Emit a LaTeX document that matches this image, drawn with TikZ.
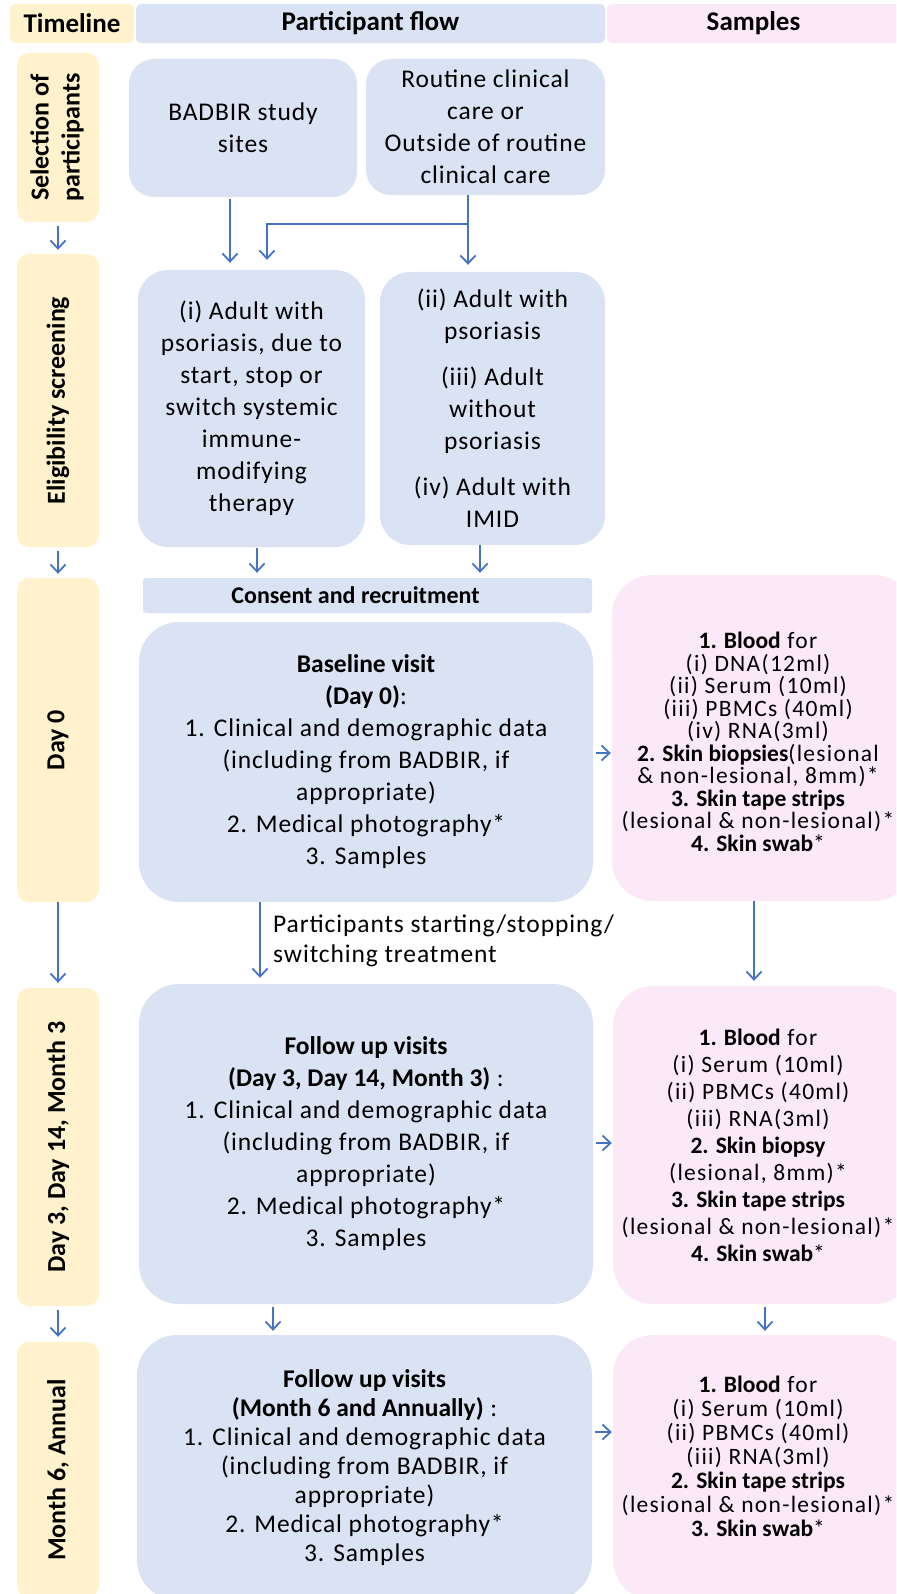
\documentclass[tikz,border=0pt]{standalone}
\usepackage{fontspec}
\setmainfont{Carlito}[UprightFeatures={LetterSpace=3.5}]
\newfontfamily\sampfont{Carlito}[UprightFeatures={LetterSpace=5.5}]
\usetikzlibrary{arrows.meta}
\definecolor{flowblue}{HTML}{DAE3F3}
\definecolor{tlyellow}{HTML}{FFF2CC}
\definecolor{spink}{HTML}{FCE9F8}
\definecolor{arrblue}{HTML}{4472C4}
\begin{document}
\begin{tikzpicture}[x=1pt,y=-1pt,
 box/.style={inner sep=0pt, align=center, text=black},
 hdr/.style={box, rounded corners=5pt, minimum height=39pt, font=\fontsize{27}{30}\selectfont\bfseries},
 tlbox/.style={box, fill=tlyellow, rounded corners=12pt, minimum width=82pt, font=\fontsize{26}{31}\selectfont\bfseries},
 flowbox/.style={box, fill=flowblue, font=\fontsize{25.5}{32}\selectfont},
 sbox/.style={box, fill=spink, rounded corners=40pt},
 stext/.style={box, font=\sampfont\fontsize{23.5}{#1}\selectfont},
 arr/.style={draw=arrblue, line width=1.8pt, -{Straight Barb[length=8pt,width=15pt]}},
 lbl/.style={inner sep=0pt, align=left, font=\fontsize{25.5}{30}\selectfont},
]
\useasboundingbox (0,0) rectangle (896,1594);
\clip (0,0) rectangle (896,1594);

% headers
\node[hdr, fill=tlyellow, minimum width=124pt] (hTL) at (72,23.5) {Timeline};
\node[hdr, fill=flowblue, minimum width=469pt] (hPF) at (370.5,23.5) {Participant flow};
\node[hdr, fill=spink, minimum width=293pt] (hS) at (753.5,23.5) {Samples};

% timeline
\node[tlbox, minimum height=169pt] (tSel) at (58,137.5) {\rotatebox{90}{\begin{tabular}{@{}c@{}}Selection of\\participants\end{tabular}}};
\node[tlbox, minimum height=293pt] (tElig) at (58,400.5) {\rotatebox{90}{Eligibility screening}};
\node[tlbox, minimum height=324pt] (tD0) at (58,740) {\rotatebox{90}{Day 0}};
\node[tlbox, minimum height=318pt] (tD3) at (58,1147) {\rotatebox{90}{Day 3, Day 14, Month 3}};
\node[tlbox, minimum height=256pt] (tM6) at (58,1470) {\rotatebox{90}{Month 6, Annual}};

% participant flow
\node[flowbox, rounded corners=25pt, minimum width=228pt, minimum height=138pt] (badbir) at (243,128) {BADBIR study\\sites};
\node[flowbox, rounded corners=25pt, minimum width=239pt, minimum height=136pt] (routine) at (485.5,127) {Routine clinical\\care or\\Outside of routine\\clinical care};
\node[flowbox, rounded corners=30pt, minimum width=227pt, minimum height=277pt] (boxi) at (251.5,408.5) {(i) Adult with\\psoriasis, due to\\start, stop or\\switch systemic\\immune-\\modifying\\therapy};
\node[flowbox, rounded corners=30pt, minimum width=225pt, minimum height=273pt] (boxii) at (492.5,408.5) {(ii) Adult with\\psoriasis\\[14pt](iii) Adult\\without\\psoriasis\\[14pt](iv) Adult with\\IMID};
\node[flowbox, rounded corners=3pt, minimum width=449pt, minimum height=35pt, font=\fontsize{24}{28}\selectfont\bfseries] (consent) at (367.5,595.5) {\hspace*{-24pt}Consent and recruitment};
\node[flowbox, rounded corners=40pt, minimum width=454pt, minimum height=280pt] (base) at (366,762) {\textbf{Baseline visit}\\\textbf{(Day 0)}:\\1. Clinical and demographic data\\(including from BADBIR, if\\appropriate)\\2. Medical photography*\\3. Samples};
\node[flowbox, rounded corners=40pt, minimum width=454pt, minimum height=320pt] (fu1) at (366,1144) {\textbf{Follow up visits}\\\textbf{(Day 3, Day 14, Month 3)} :\\1. Clinical and demographic data\\(including from BADBIR, if\\appropriate)\\2. Medical photography*\\3. Samples};
\node[flowbox, rounded corners=40pt, minimum width=455pt, minimum height=265pt, font=\fontsize{25.5}{29}\selectfont] (fu2) at (364.5,1467.5) {\textbf{Follow up visits}\\\textbf{(Month 6 and Annually)} :\\1. Clinical and demographic data\\(including from BADBIR, if\\appropriate)\\2. Medical photography*\\3. Samples};

% samples
\node[sbox, minimum width=302pt, minimum height=326pt] (s1) at (763,738) {};
\node[stext=22.5pt] (s1t) at (758,742) {\textbf{1. Blood} for\\(i) DNA(12ml)\\(ii) Serum (10ml)\\(iii) PBMCs (40ml)\\(iv) RNA(3ml)\\\textbf{2. Skin biopsies}(lesional\\\& non-lesional, 8mm)*\\\textbf{3. Skin tape strips}\\(lesional \& non-lesional)*\\\textbf{4. Skin swab}*};
\node[sbox, minimum width=301pt, minimum height=318pt] (s2) at (763.5,1145) {};
\node[stext=27pt] (s2t) at (758,1145) {\textbf{1. Blood} for\\(i) Serum (10ml)\\(ii) PBMCs (40ml)\\(iii) RNA(3ml)\\\textbf{2. Skin biopsy}\\(lesional, 8mm)*\\\textbf{3. Skin tape strips}\\(lesional \& non-lesional)*\\\textbf{4. Skin swab}*};
\node[sbox, minimum width=301pt, minimum height=265pt] (s3) at (763.5,1467.5) {};
\node[stext=24pt] (s3t) at (758,1456) {\textbf{1. Blood} for\\(i) Serum (10ml)\\(ii) PBMCs (40ml)\\(iii) RNA(3ml)\\\textbf{2. Skin tape strips}\\(lesional \& non-lesional)*\\\textbf{3. Skin swab}*};

% label
\node[lbl, anchor=north west] (lab) at (273,915) {Participants starting/stopping/\\switching treatment};

% coordinates for connector columns/rows
\coordinate (xa) at (230,0);
\coordinate (xb) at (468,0);
\coordinate (br) at (468,224);
\coordinate (xc) at (267,0);
\coordinate (xd) at (257,0);
\coordinate (xe) at (480,0);
\coordinate (xf) at (260,0);
\coordinate (xg) at (754,0);
\coordinate (xh) at (273,0);
\coordinate (xi) at (765,0);
\coordinate (ya) at (0,753);
\coordinate (yb) at (0,1143);
\coordinate (yc) at (0,1432);

% timeline arrows
\draw[arr, shorten <=4pt, shorten >=4pt] (tSel) -- (tElig);
\draw[arr, shorten <=4pt, shorten >=4pt] (tElig) -- (tD0);
\draw[arr, shorten <=0pt, shorten >=5pt] (tD0) -- (tD3);
\draw[arr, shorten <=4pt, shorten >=5pt] (tD3) -- (tM6);

% flow arrows
\draw[arr, shorten <=2pt, shorten >=7pt] (badbir.south -| xa) -- (boxi.north -| xa);
\draw[arr, shorten >=7pt] (routine.south -| xb) -- (boxii.north -| xb);
\draw[arr, shorten >=10pt] (br) -| (boxi.north -| xc);
\draw[arr, shorten <=1pt, shorten >=5pt] (boxi.south -| xd) -- (consent.north -| xd);
\draw[arr, shorten >=5pt] (boxii.south -| xe) -- (consent.north -| xe);
\draw[arr, shorten >=6pt] (base.south -| xf) -- (fu1.north -| xf);
\draw[arr, shorten <=3pt, shorten >=4pt] (fu1.south -| xh) -- (fu2.north -| xh);
\draw[arr, shorten <=3pt, shorten >=1pt] (base.east |- ya) -- (s1.west |- ya);
\draw[arr, shorten <=3pt, shorten >=1pt] (fu1.east |- yb) -- (s2.west |- yb);
\draw[arr, shorten <=3pt, shorten >=1pt] (fu2.east |- yc) -- (s3.west |- yc);
\draw[arr, shorten >=5pt] (s1.south -| xg) -- (s2.north -| xg);
\draw[arr, shorten <=3pt, shorten >=4pt] (s2.south -| xi) -- (s3.north -| xi);
\end{tikzpicture}
\end{document}
